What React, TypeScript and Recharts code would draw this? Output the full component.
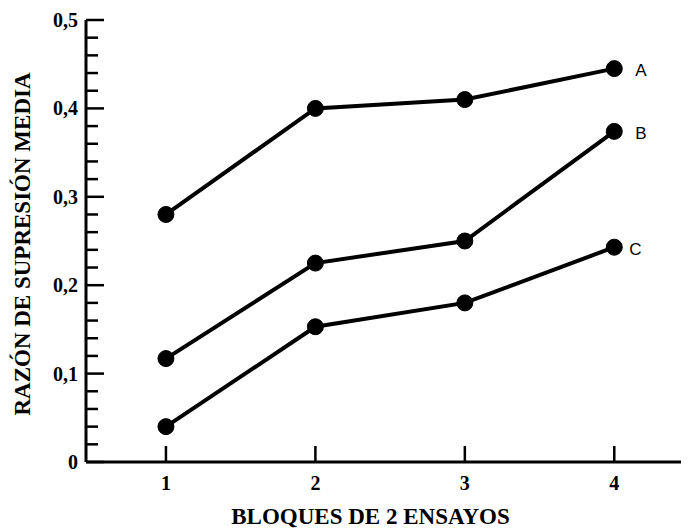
import React from 'react';
import { LineChart, Line, XAxis, YAxis, LabelList, Label } from 'recharts';

const categories = [1, 2, 3, 4];
const seriesA = [0.28, 0.4, 0.41, 0.445];
const seriesB = [0.117, 0.225, 0.25, 0.374];
const seriesC = [0.04, 0.153, 0.18, 0.243];
const seriesNames = ['A', 'B', 'C'];
const xTicks = [1, 2, 3, 4];
const yTicks = [0, 0.02, 0.04, 0.06, 0.08, 0.1, 0.12, 0.14, 0.16, 0.18, 0.2, 0.22, 0.24, 0.26, 0.28, 0.3, 0.32, 0.34, 0.36, 0.38, 0.4, 0.42, 0.44, 0.46, 0.48, 0.5];
const yMajorTicks = [0, 0.1, 0.2, 0.3, 0.4, 0.5];
const yTickLabels = ['0', '0,1', '0,2', '0,3', '0,4', '0,5'];
const xTitle = 'BLOQUES DE 2 ENSAYOS';
const yTitle = 'RAZÓN DE SUPRESIÓN MEDIA';

const data = categories.map((c, i) => ({ x: c, A: seriesA[i], B: seriesB[i], C: seriesC[i] }));

const SERIF = '"Liberation Serif", "DejaVu Serif", serif';
const SANS = '"Liberation Sans", Arial, sans-serif';

const XTick = (props: any) => {
  const { x, y, payload } = props;
  const axisY = y - 10;
  return (
    <g>
      <line x1={x} y1={axisY} x2={x} y2={axisY - 16} stroke="#000" strokeWidth={2.5} />
      <text x={x} y={y + 18} textAnchor="middle" fontFamily={SERIF} fontWeight="bold" fontSize={20} fill="#000">
        {payload.value}
      </text>
    </g>
  );
};

const YTick = (props: any) => {
  const { x, y, payload } = props;
  const axisX = x + 8;
  const idx = yMajorTicks.findIndex((t) => Math.abs(t - payload.value) < 1e-6);
  const major = idx >= 0;
  return (
    <g>
      <line x1={axisX} y1={y} x2={axisX + (major ? 18 : 12)} y2={y} stroke="#000" strokeWidth={2.5} />
      {major && (
        <text x={x} y={y + 7} textAnchor="end" fontFamily={SERIF} fontWeight="bold" fontSize={20} fill="#000">
          {yTickLabels[idx]}
        </text>
      )}
    </g>
  );
};

const makeEndLabel = (name: string, dx: number) => (p: any) => {
  if (p.index !== categories.length - 1) return null;
  return (
    <text x={p.x + dx} y={p.y + 3} textAnchor="start" dominantBaseline="middle" fontFamily={SANS} fontSize={17} fill="#000">
      {name}
    </text>
  );
};

const seriesList = [
  { key: 'A', name: seriesNames[0], dx: 21 },
  { key: 'B', name: seriesNames[1], dx: 21 },
  { key: 'C', name: seriesNames[2], dx: 15 },
];

export default function App() {
  return (
    <div style={{ width: 681, height: 522, background: '#fff' }}>
      <LineChart width={681} height={522} data={data} margin={{ top: 12, right: 0, bottom: 0, left: 0 }}>
        <XAxis
          dataKey="x"
          type="number"
          domain={[0.465, 4.5]}
          ticks={xTicks}
          interval={0}
          height={68}
          axisLine={{ stroke: '#000', strokeWidth: 3 }}
          tickLine={false}
          tickSize={0}
          tickMargin={10}
          tick={<XTick />}
        >
          <Label
            content={(p: any) => {
              const vb = p.viewBox;
              return (
                <text x={vb.x + vb.width / 2 - 17} y={vb.y + 62} textAnchor="middle" fontFamily={SERIF} fontWeight="bold" fontSize={23} fill="#000">
                  {xTitle}
                </text>
              );
            }}
          />
        </XAxis>
        <YAxis
          type="number"
          domain={[0, 0.5]}
          ticks={yTicks}
          interval={0}
          width={78}
          axisLine={{ stroke: '#000', strokeWidth: 3 }}
          tickLine={false}
          tickSize={0}
          tickMargin={8}
          tick={<YTick />}
        >
          <Label
            content={(p: any) => {
              const vb = p.viewBox;
              const cx = vb.x + 17;
              const cy = vb.y + vb.height / 2 + 3;
              return (
                <text x={cx} y={cy} transform={`rotate(-90, ${cx}, ${cy})`} textAnchor="middle" dominantBaseline="middle" fontFamily={SERIF} fontWeight="bold" fontSize={23} fill="#000">
                  {yTitle}
                </text>
              );
            }}
          />
        </YAxis>
        {seriesList.map((s) => (
          <Line
            key={s.key}
            type="linear"
            dataKey={s.key}
            stroke="#000"
            strokeWidth={4}
            dot={{ r: 8, fill: '#000', stroke: '#000', strokeWidth: 1 }}
            activeDot={false}
            isAnimationActive={false}
          >
            <LabelList dataKey={s.key} content={makeEndLabel(s.name, s.dx)} />
          </Line>
        ))}
      </LineChart>
    </div>
  );
}
